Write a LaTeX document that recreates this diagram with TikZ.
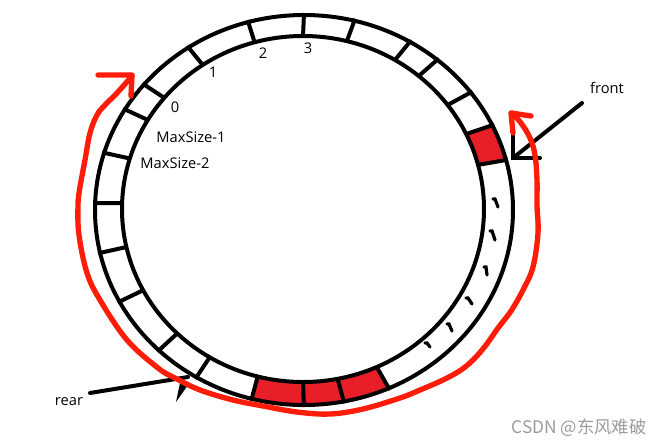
\documentclass[tikz,border=0pt]{standalone}
\usepackage{fontspec}
\setmainfont{Open Sans}
\newfontfamily\cjkfont{Noto Sans CJK SC}
\definecolor{cellred}{RGB}{232,30,40}
\definecolor{penred}{RGB}{255,28,8}
\definecolor{wmgray}{RGB}{155,155,155}
\begin{document}
\begin{tikzpicture}[x=0.75pt,y=-0.75pt,
  ringline/.style={line width=3pt},
  tickline/.style={line width=3pt},
  dashmark/.style={line width=2.4pt,line cap=round},
  pen/.style={penred,line width=4pt,line cap=round,line join=round},
  lbl/.style={font=\fontsize{11}{13}\selectfont,inner sep=0pt},
  pointer/.style={line width=3pt,line cap=round}]
\useasboundingbox (0,0) rectangle (662,444);
% red (occupied) cells
\foreach \a/\b in {14.8/25.7, 255.5/270, 270/281, 281/294} {
  \fill[cellred] plot[domain=\a:\b,samples=12] ({304+209*cos(\x)},{210-195*sin(\x)})
     -- plot[domain=\b:\a,samples=12] ({303+181*cos(\x)},{209-173*sin(\x)}) -- cycle;
}
% ring
\draw[ringline] (304,210) ellipse [x radius=209, y radius=195];
\draw[ringline] (303,209) ellipse [x radius=181, y radius=173];
% cell dividers
\foreach \t in {14.8,25.7,37,50.3,59.5,76,90,105.5,123.6,140,149,163,178,192.7,208,226,239,255.5,270,281,294} {
  \draw[tickline] ({304+211*cos(\t)},{210-197*sin(\t)}) -- ({303+180*cos(\t)},{209-172*sin(\t)});
}
% continuation marks
\foreach \xa/\ya/\xb/\yb in {493/199/498/207, 490/231/495/240, 484/267/487/275, 466/298/472/304, 447/324/452/331, 425/343/430/347} {
  \draw[dashmark] (\xa,\ya) -- (\xa+2,\ya) -- (\xb,\yb);
}
% labels
\node[lbl] (n0) at (175,107) {0};
\node[lbl] (n1) at (213,72) {1};
\node[lbl] (n2) at (263,53) {2};
\node[lbl] (n3) at (308,48) {3};
\node[lbl] (m1) at (191,137) {MaxSize-1};
\node[lbl] (m2) at (175,163) {MaxSize-2};
\node[lbl] (front) at (607,88) {front};
\node[lbl] (rear) at (69,402) {rear};
\node[inner sep=0pt,text=wmgray,font=\cjkfont\fontsize{13}{15}\selectfont] (wm) at (579,428) {CSDN @东风难破};
% front pointer
\coordinate (frontTail) at (582,103);
\coordinate (frontTip) at (513,158);
\draw[pointer] (frontTail) -- (frontTip);
\draw[pointer] (513,135) -- (frontTip) -- (540,158);
% rear pointer
\coordinate (rearTail) at (90,393);
\coordinate (rearTip) at (188,377);
\draw[pointer] (rearTail) -- (rearTip);
\fill (180,383) -- (188,385) -- (176,402) -- cycle;
% red circulation arrow
\draw[pen] plot[smooth,tension=0.6] coordinates {
 (512,113) (521,123) (530,138) (535,155) (537,180) (537,205) (538,233) (533,267)
 (523,290) (511,311) (498,328) (486,345) (474,359) (461,370) (443,380) (420,390)
 (400,398) (363,409) (330,414) (297,412)
 (263,406) (233,400) (200,390) (175,378) (158,368) (127,340) (100,300) (87,273)
 (79,235) (78,205) (80,187) (85,160) (90,133) (97,115) (105,105) (117,93) (132,76)};
\draw[pen] (98,75) -- (132,75) -- (131,96);
\draw[pen] (531,116) -- (511,113) -- (513,133);
\end{tikzpicture}
\end{document}
